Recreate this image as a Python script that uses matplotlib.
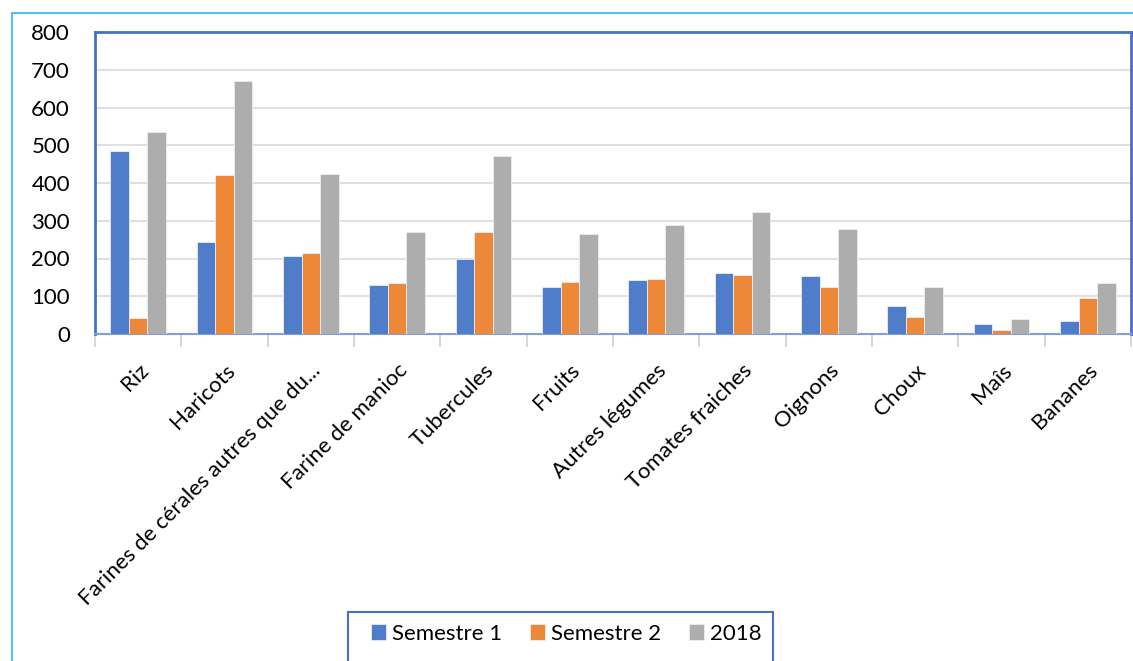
import matplotlib.pyplot as plt
import numpy as np
from matplotlib.patches import Rectangle

plt.rcParams['font.family'] = ['Lato', 'DejaVu Sans']

# Data
categories = ["Riz", "Haricots", "Farines de cérales autres que du...", "Farine de manioc",
              "Tubercules", "Fruits", "Autres légumes", "Tomates fraiches", "Oignons",
              "Choux", "Maîs", "Bananes"]
semestre_1 = [485, 245, 206, 129, 200, 124, 142, 161, 153, 74, 26, 34]
semestre_2 = [42, 422, 214, 135, 269, 137, 145, 156, 124, 45, 11, 95]
annee_2018 = [536, 670, 425, 269, 472, 264, 290, 322, 279, 124, 40, 135]
series_names = ["Semestre 1", "Semestre 2", "2018"]
colors = ["#4f7dca", "#ee8839", "#adadad"]

W, H = 1133, 661
fig = plt.figure(figsize=(W / 100, H / 100), dpi=100)

# outer light blue frame
fig.patches.append(Rectangle((12 / W, -0.1), 1.2, 1 - 13 / H + 0.1, transform=fig.transFigure,
                             fill=False, edgecolor="#55c0ee", linewidth=1.5))

ax = fig.add_axes([95 / W, (H - 334) / H, (1131 - 95) / W, (334 - 32) / H])

x = np.arange(len(categories))
bw = 0.216
for k, vals in enumerate([semestre_1, semestre_2, annee_2018]):
    ax.bar(x + (k - 1) * bw, vals, width=bw, color=colors[k], edgecolor="#e8eef8",
           linewidth=0.6, label=series_names[k], zorder=3)

ax.set_xlim(-0.5, len(categories) - 0.5)
ax.set_ylim(0, 800)
ax.set_yticks(np.arange(0, 801, 100))
ax.yaxis.grid(True, color="#dddddd", linewidth=1.3, zorder=0)
ax.tick_params(axis='y', length=0, pad=18, labelsize=16)

ax.set_xticks(x)
ax.set_xticklabels(categories, rotation=45, ha='right', rotation_mode='anchor', fontsize=16)
ax.tick_params(axis='x', which='major', length=0, pad=19)
ax.set_xticks(np.arange(-0.5, len(categories), 1), minor=True)
ax.tick_params(axis='x', which='minor', length=9, color="#d0d0d0", width=1.2)

for s in ax.spines.values():
    s.set_color("#4472c4")
    s.set_linewidth(2)
ax.spines['bottom'].set_color("#7f9fd8")
ax.spines['bottom'].set_linewidth(1.5)

# legend box drawn separately, open at the bottom edge of the image
fig.patches.append(Rectangle((348 / W, -0.05), (773 - 348) / W, 0.05 + 1 - 612 / H,
                             transform=fig.transFigure, fill=False,
                             edgecolor="#4472c4", linewidth=1.5))
fig.legend(loc='center', bbox_to_anchor=(566 / W, 1 - 634 / H), ncol=3,
           fontsize=16, frameon=False, handlelength=0.7, handleheight=0.7,
           columnspacing=1.25, handletextpad=0.25, borderpad=0, borderaxespad=0)

fig.savefig("out.png", dpi=100)
